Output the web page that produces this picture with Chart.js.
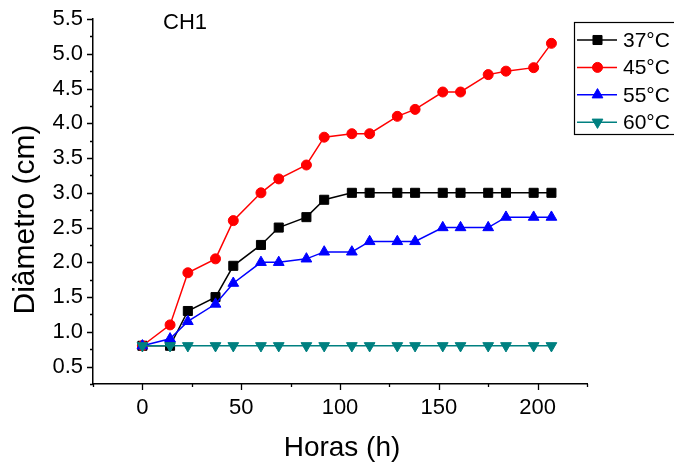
<!DOCTYPE html>
<html>
<head>
<meta charset="utf-8">
<script src="https://cdn.jsdelivr.net/npm/chart.js@4"></script>
<style>
  html, body { margin: 0; padding: 0; background: #fff; }
</style>
</head>
<body>
<canvas id="chart" width="674" height="463"></canvas>
<script>
// sampling times (h) and measured diameters (cm) per temperature
const horas = [0, 14, 23, 37, 46, 60, 69, 83, 92, 106, 115, 129, 138, 152, 161, 175, 184, 198, 207];
const diam37 = [0.8, 0.8, 1.3, 1.5, 1.95, 2.25, 2.5, 2.65, 2.9, 3.0, 3.0, 3.0, 3.0, 3.0, 3.0, 3.0, 3.0, 3.0, 3.0];
const diam45 = [0.8, 1.1, 1.85, 2.05, 2.6, 3.0, 3.2, 3.4, 3.8, 3.85, 3.85, 4.1, 4.2, 4.45, 4.45, 4.7, 4.75, 4.8, 5.15];
const diam55 = [0.8, 0.9, 1.15, 1.4, 1.7, 2.0, 2.0, 2.05, 2.15, 2.15, 2.3, 2.3, 2.3, 2.5, 2.5, 2.5, 2.65, 2.65, 2.65];
const diam60 = [0.8, 0.8, 0.8, 0.8, 0.8, 0.8, 0.8, 0.8, 0.8, 0.8, 0.8, 0.8, 0.8, 0.8, 0.8, 0.8, 0.8, 0.8, 0.8];

const seriesLabels = ['37°C', '45°C', '55°C', '60°C'];
const xTickValues = [0, 50, 100, 150, 200];
const yTickValues = [0.5, 1.0, 1.5, 2.0, 2.5, 3.0, 3.5, 4.0, 4.5, 5.0, 5.5];
const xTitle = 'Horas (h)';
const yTitle = 'Diâmetro (cm)';
const panelLabel = 'CH1';

const FONT = "'Liberation Sans', Arial, sans-serif";
Chart.defaults.font.family = FONT;
Chart.defaults.color = '#000';

const toPoints = (ys) => horas.map((h, i) => ({ x: h, y: ys[i] }));

const makeDataset = (label, ys, color, pointStyle, radius, rotation, order) => ({
  label,
  data: toPoints(ys),
  borderColor: color,
  backgroundColor: color,
  borderWidth: 1.5,
  pointStyle,
  pointRadius: radius,
  pointRotation: rotation,
  pointBackgroundColor: color,
  pointBorderColor: color,
  pointBorderWidth: 1,
  tension: 0,
  order,
});

const datasets = [
  makeDataset(seriesLabels[0], diam37, '#000000', 'rect', 6.4, 0, 4),
  makeDataset(seriesLabels[1], diam45, '#ff0000', 'circle', 5, 0, 3),
  makeDataset(seriesLabels[2], diam55, '#0000ff', 'triangle', 6.2, 0, 2),
  makeDataset(seriesLabels[3], diam60, '#008080', 'triangle', 6.2, 180, 1),
];

// outward major + minor ticks on both axes
const axisTicks = {
  id: 'axisTicks',
  afterDraw(chart) {
    const { ctx, chartArea, scales: { x, y } } = chart;
    ctx.save();
    ctx.strokeStyle = '#000';
    ctx.lineWidth = 1.3;
    ctx.beginPath();
    for (let v = -25; v <= 225; v += 25) {
      const px = Math.round(x.getPixelForValue(v)) + 0.5;
      const len = v % 50 === 0 ? 6 : 3;
      ctx.moveTo(px, chartArea.bottom);
      ctx.lineTo(px, chartArea.bottom + len);
    }
    for (let i = 1; i <= 22; i++) {
      const py = Math.round(y.getPixelForValue(i * 0.25)) + 0.5;
      const len = i % 2 === 0 ? 6 : 3;
      ctx.moveTo(chartArea.left, py);
      ctx.lineTo(chartArea.left - len, py);
    }
    ctx.stroke();
    ctx.restore();
  },
};

// axis titles, boxed legend in the upper right and the panel tag
const annotations = {
  id: 'annotations',
  afterDraw(chart) {
    const { ctx } = chart;
    ctx.save();
    ctx.fillStyle = '#000';

    ctx.font = `28px ${FONT}`;
    ctx.textAlign = 'center';
    ctx.textBaseline = 'alphabetic';
    ctx.fillText(xTitle, 342, 455.5);

    ctx.save();
    ctx.translate(33.5, 219.5);
    ctx.rotate(-Math.PI / 2);
    ctx.font = `30px ${FONT}`;
    ctx.fillText(yTitle, 0, 0);
    ctx.restore();

    const left = 574, top = 22, rowGap = 27.4, firstRow = 40;
    ctx.fillStyle = '#fff';
    ctx.fillRect(left, top, 120, 112);
    ctx.strokeStyle = '#000';
    ctx.lineWidth = 1.2;
    ctx.strokeRect(left + 0.5, top + 0.5, 120, 112);

    chart.data.datasets.forEach((ds, i) => {
      const cy = firstRow + i * rowGap;
      ctx.strokeStyle = ds.borderColor;
      ctx.fillStyle = ds.borderColor;
      ctx.lineWidth = 1.5;
      ctx.beginPath();
      ctx.moveTo(577, cy);
      ctx.lineTo(617, cy);
      ctx.stroke();
      ctx.lineWidth = 1;
      Chart.helpers.drawPoint(ctx, {
        pointStyle: ds.pointStyle,
        radius: ds.pointRadius,
        rotation: ds.pointRotation,
        borderWidth: 1,
      }, 597.5, cy);
      ctx.fillStyle = '#000';
      ctx.font = `21px ${FONT}`;
      ctx.textBaseline = 'middle';
      ctx.textAlign = 'left';
      ctx.fillText(ds.label, 623, cy + 1);
    });

    ctx.fillStyle = '#000';
    ctx.font = `22px ${FONT}`;
    ctx.textBaseline = 'alphabetic';
    ctx.textAlign = 'left';
    ctx.fillText(panelLabel, 163, 29);
    ctx.restore();
  },
};

new Chart(document.getElementById('chart'), {
  type: 'line',
  data: { datasets },
  options: {
    responsive: false,
    devicePixelRatio: 1,
    animation: false,
    layout: { padding: { top: 19, right: 87, left: 0, bottom: 0 } },
    plugins: { legend: { display: false }, tooltip: { enabled: false } },
    scales: {
      x: {
        type: 'linear',
        min: -25,
        max: 225,
        afterBuildTicks: (s) => { s.ticks = xTickValues.map((value) => ({ value })); },
        afterFit: (s) => { s.height = 79; },
        grid: { display: false, drawTicks: true, tickLength: 8 },
        border: { display: true, color: '#000', width: 1.5 },
        ticks: { font: { size: 22 }, padding: 3, maxRotation: 0, autoSkip: false },
      },
      y: {
        type: 'linear',
        min: 0.25,
        max: 5.5,
        afterBuildTicks: (s) => { s.ticks = yTickValues.map((value) => ({ value })); },
        afterFit: (s) => { s.width = 93; },
        grid: { display: false, drawTicks: true, tickLength: 8 },
        border: { display: true, color: '#000', width: 1.5 },
        ticks: { font: { size: 22 }, padding: 2, autoSkip: false, callback: (v) => v.toFixed(1) },
      },
    },
  },
  plugins: [axisTicks, annotations],
});
</script>
</body>
</html>
